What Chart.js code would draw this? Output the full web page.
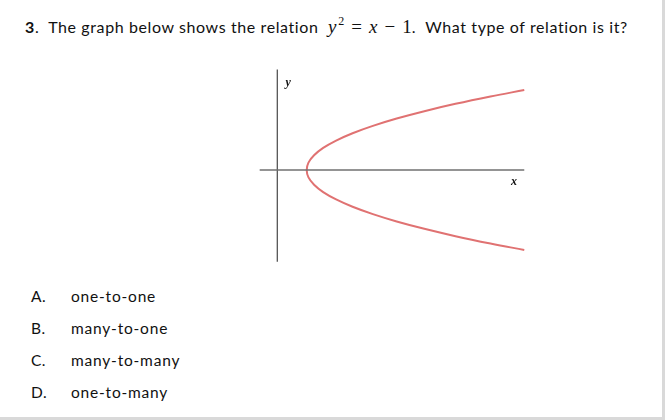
<!DOCTYPE html>
<html>
<head>
<meta charset="utf-8">
<script src="https://cdn.jsdelivr.net/npm/chart.js@4/dist/chart.umd.min.js"></script>
<style>
  html, body { margin: 0; padding: 0; background: #fff; }
  #page {
    position: relative; width: 662px; height: 417px;
    border-right: 3px solid #d9d9d9; border-bottom: 3px solid #d9d9d9;
    font-family: Lato, "Open Sans", sans-serif; color: #111;
  }
  #title { position: absolute; left: 25px; top: 16px; font-size: 16px; letter-spacing: 0.6px; white-space: nowrap; }
  #title .m { font-family: "Liberation Serif", "DejaVu Serif", serif; font-size: 19px; letter-spacing: 0; }
  #title .m .op { display: inline-block; margin: 0 7px; }
  #title sup { font-size: 12px; vertical-align: 0; position: relative; top: -8px; margin-left: 2px; }
  .opt { position: absolute; font-size: 15.5px; letter-spacing: 0.8px; white-space: nowrap; }
  .opt .k { position: absolute; left: 0; letter-spacing: 0.5px; }
  .opt .t { position: absolute; left: 40px; }
  #wrap { position: absolute; left: 250px; top: 60px; width: 290px; height: 210px; }
</style>
</head>
<body>
<div id="page">
  <div id="title"><b>3</b>.&nbsp; The graph below shows the relation&nbsp; <span class="m"><i>y</i><sup>2</sup><span class="op">=</span><i>x</i><span class="op">−</span>1</span>.&nbsp; What type of relation is it?</div>
  <div id="opts"></div>
  <div id="wrap"><canvas id="c" width="290" height="210"></canvas></div>
</div>
<script>
// 選項文字
const optionKeys = ["A.", "B.", "C.", "D."]
const optionTexts = ["one-to-one", "many-to-one", "many-to-many", "one-to-many"]

// 曲線 y^2 = x - 1 點 (由下往上)
const curveY = [-2.72, -2.5, -2.25, -2, -1.75, -1.5, -1.25, -1, -0.75, -0.5, -0.25, 0, 0.25, 0.5, 0.75, 1, 1.25, 1.5, 1.75, 2, 2.25, 2.5, 2.72]
const curveX = [8.4, 7.25, 6.06, 5, 4.06, 3.25, 2.56, 2, 1.56, 1.25, 1.06, 1, 1.06, 1.25, 1.56, 2, 2.56, 3.25, 4.06, 5, 6.06, 7.25, 8.4]

// 座標軸線段端點
const xAxisX = [-0.6, 8.4]
const xAxisY = [0, 0]
const yAxisX = [0, 0]
const yAxisY = [-3.12, 3.42]

const opts = document.getElementById("opts")
const tops = [287, 319, 351, 383]
optionKeys.forEach((k, i) => {
  const d = document.createElement("div")
  d.className = "opt"
  d.style.left = "31px"
  d.style.top = tops[i] + "px"
  d.innerHTML = '<span class="k">' + k + '</span><span class="t">' + optionTexts[i] + "</span>"
  opts.appendChild(d)
})

const toPts = (xs, ys) => xs.map((x, i) => ({ x, y: ys[i] }))

// 軸名稱 x, y
const axisNames = {
  id: "axisNames",
  afterDatasetsDraw(chart) {
    const { ctx, scales } = chart
    ctx.save()
    ctx.fillStyle = "#111"
    ctx.font = "italic bold 12px 'Liberation Serif', serif"
    ctx.fillText("y", scales.x.getPixelForValue(0.28), scales.y.getPixelForValue(2.85))
    ctx.fillText("x", scales.x.getPixelForValue(7.95), scales.y.getPixelForValue(-0.5))
    ctx.restore()
  },
}

new Chart(document.getElementById("c"), {
  type: "scatter",
  data: {
    datasets: [
      { data: toPts(xAxisX, xAxisY), showLine: true, borderColor: "#707070", borderWidth: 1.3, pointRadius: 0 },
      { data: toPts(yAxisX, yAxisY), showLine: true, borderColor: "#555555", borderWidth: 1.3, pointRadius: 0 },
      { data: toPts(curveX, curveY), showLine: true, borderColor: "#e07272", borderWidth: 2, pointRadius: 0, tension: 0.4 },
    ],
  },
  options: {
    responsive: false,
    animation: false,
    layout: { padding: 0 },
    plugins: { legend: { display: false }, tooltip: { enabled: false } },
    scales: {
      x: { type: "linear", display: false, min: -0.929, max: 8.935 },
      y: { type: "linear", display: false, min: -3.401, max: 3.741 },
    },
  },
  plugins: [axisNames],
})
</script>
</body>
</html>
